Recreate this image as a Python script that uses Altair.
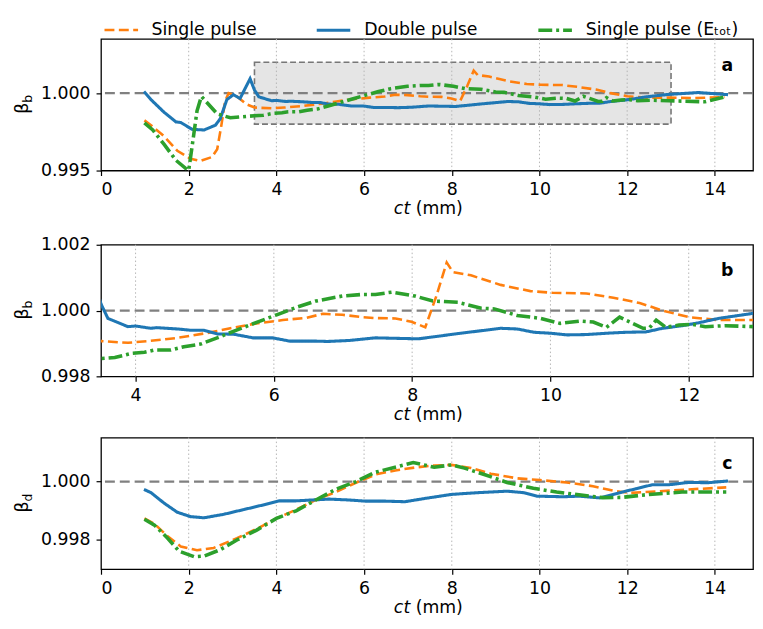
import altair as alt
import pandas as pd

SERIES = ["Single pulse", "Double pulse", "Single pulse (Eₜₒₜ)"]
COLORS = ["#ff7f0e", "#1f77b4", "#2ca02c"]
DASHES = [[10, 4.5], [1, 0], [14, 4, 3, 4]]
WIDTHS = [2.6, 3.6, 2.6]

# ---------------- beta_b (panels a and b share the same curves) ----------------
bb_single_ct = [0.99, 1.14, 1.44, 1.74, 2.04, 2.27, 2.53, 2.65, 2.74, 2.83, 2.91, 3.10, 3.32,
                3.5, 3.89, 4.18, 4.61, 5.04, 5.37, 5.75, 6.13, 6.47, 6.71, 6.99, 7.28, 7.47,
                7.76, 7.99, 8.19, 8.35, 8.50, 8.59, 8.85, 9.28, 9.71, 10.03, 10.52, 10.91,
                11.29, 11.62, 12.00, 12.43, 12.95, 13.5, 14.22]
bb_single = [0.99824, 0.99793, 0.99721, 0.99628, 0.99576, 0.99562, 0.99587, 0.99638, 0.99783,
             0.99948, 1.0000, 0.99979, 0.99928, 0.99907, 0.99902, 0.99907, 0.99917, 0.99932,
             0.99946, 0.99961, 0.99971, 0.99978, 0.9999, 0.99987, 0.9998, 0.99977, 0.99976,
             0.99966, 0.99949, 1.00044, 1.00146, 1.00117, 1.00107, 1.00078, 1.00059, 1.00054,
             1.00052, 1.00039, 1.00023, 1.0000, 0.9998, 0.99971, 0.99971, 0.99968, 0.99975]

bb_double_ct = [0.98, 1.14, 1.44, 1.71, 1.82, 2.08, 2.35, 2.61, 2.72, 2.87, 3.02, 3.17, 3.40,
                3.5, 3.60, 3.89, 4.0, 4.22, 4.31, 4.61, 4.80, 4.99, 5.18, 5.42, 5.70, 5.98,
                6.23, 6.61, 6.78, 7.09, 7.47, 8.09, 8.38, 8.66, 9.05, 9.28, 9.52, 9.76, 10.0,
                10.24, 10.52, 10.81, 11.10, 11.38, 11.62, 11.91, 12.15, 12.43, 12.72, 12.95,
                13.62, 14.30]
bb_double = [1.0001, 0.99958, 0.99876, 0.99814, 0.9981, 0.99766, 0.99762, 0.99793, 0.99835,
             0.99958, 0.9999, 0.99965, 1.00093, 1.0002, 0.99976, 0.99951, 0.99953, 0.99946,
             0.99948, 0.99944, 0.9994, 0.9994, 0.99929, 0.99928, 0.99917, 0.99917, 0.99907,
             0.99907, 0.99906, 0.99909, 0.99917, 0.99914, 0.99922, 0.9993, 0.9994, 0.99946,
             0.99944, 0.99934, 0.99931, 0.99926, 0.99927, 0.99931, 0.99934, 0.99935, 0.99946,
             0.99954, 0.99963, 0.99976, 0.99985, 0.99992, 1.00004, 0.9999]

bb_etot_ct = [0.99, 1.18, 1.44, 1.71, 1.93, 2.0, 2.12, 2.19, 2.29, 2.42, 2.65, 2.95, 3.5, 3.70,
              3.94, 4.13, 4.27, 4.51, 4.70, 4.94, 5.18, 5.47, 5.75, 6.04, 6.33, 6.61, 6.99,
              7.28, 7.47, 7.71, 8.04, 8.30, 8.66, 9.0, 9.19, 9.52, 9.86, 10.14, 10.43, 10.62,
              10.81, 11.0, 11.19, 11.34, 11.43, 11.53, 11.67, 11.86, 12.05, 12.24, 12.53,
              12.95, 13.77, 14.27]
bb_etot = [0.99808, 0.99762, 0.99669, 0.99566, 0.99514, 0.9950, 0.99742, 0.99886, 0.99979,
           0.99938, 0.99866, 0.99841, 0.99854, 0.99857, 0.9987, 0.99873, 0.9988, 0.9988,
           0.9989, 0.99898, 0.99917, 0.99941, 0.99964, 0.99987, 1.0001, 1.00029, 1.00044,
           1.00049, 1.00049, 1.00056, 1.00044, 1.00029, 1.00025, 1.00007, 1.00005, 0.99985,
           0.99976, 0.99961, 0.99968, 0.99965, 0.99949, 0.9998, 0.99961, 0.99946, 0.99947,
           0.99971, 0.99949, 0.99956, 0.99958, 0.99951, 0.99954, 0.99951, 0.99944, 0.99979]

# ---------------- beta_d (panel c) ----------------
bd_single_ct = [0.99, 1.22, 1.52, 1.82, 2.19, 2.57, 3.10, 3.55, 4.0, 4.45, 4.90, 5.35, 5.80,
                6.26, 6.71, 7.16, 7.6, 7.99, 8.44, 8.89, 9.49, 10.02, 10.62, 11.22, 11.67,
                12.05, 12.65, 13.40, 14.26]
bd_single = [0.99874, 0.99855, 0.99813, 0.99778, 0.99765, 0.99773, 0.99806, 0.99838, 0.99874,
             0.99904, 0.99937, 0.99964, 0.99995, 1.00024, 1.00038, 1.00048, 1.00055, 1.00057,
             1.00046, 1.00027, 1.00011, 1.00005, 0.99997, 0.99984, 0.99969, 0.99961, 0.99966,
             0.99973, 0.9998]

bd_double_ct = [0.98, 1.14, 1.44, 1.74, 2.04, 2.35, 2.80, 3.25, 3.70, 4.07, 4.45, 4.83, 5.20,
                5.65, 6.03, 6.48, 6.93, 7.38, 7.99, 8.59, 9.26, 9.64, 9.94, 10.54, 10.92,
                11.37, 11.89, 12.19, 12.57, 12.95, 13.40, 13.85, 14.30]
bd_double = [0.99973, 0.99962, 0.99926, 0.99895, 0.9988, 0.99876, 0.99888, 0.99904, 0.9992,
             0.99934, 0.99934, 0.99937, 0.9994, 0.99937, 0.99933, 0.99933, 0.99931, 0.99942,
             0.99956, 0.99962, 0.99967, 0.99962, 0.9995, 0.99948, 0.9995, 0.99944, 0.99964,
             0.99975, 0.99989, 0.99989, 0.99997, 0.99996, 1.00002]

bd_etot_ct = [0.99, 1.22, 1.52, 1.78, 2.12, 2.35, 2.72, 3.10, 3.55, 4.0, 4.45, 4.90, 5.35,
              5.80, 6.26, 6.71, 7.12, 7.6, 8.0, 8.29, 8.74, 9.26, 9.86, 10.39, 10.99, 11.44,
              11.89, 12.50, 13.25, 14.26]
bd_etot = [0.99871, 0.99851, 0.99806, 0.99762, 0.99743, 0.99745, 0.99767, 0.998, 0.99834,
           0.99874, 0.999, 0.99937, 0.99973, 0.99999, 1.00032, 1.00049, 1.00065, 1.00049,
           1.00057, 1.00046, 1.00024, 0.99997, 0.99977, 0.99964, 0.99953, 0.99945, 0.99946,
           0.99956, 0.99964, 0.99964]

# ---------------- axes / annotations ----------------
xticks_full = [0, 2, 4, 6, 8, 10, 12, 14]
xticks_zoom = [4, 6, 8, 10, 12]
yticks_a = [0.995, 1.000]
yticks_b = [0.998, 1.000, 1.002]
yticks_c = [0.998, 1.000]
box_a = {"x": [3.5], "x2": [13.0], "y": [0.998], "y2": [1.002]}
ref_level = [1.0]

FONT = "DejaVu Sans"
FS = 17.5
W = 659
H = 133


def long_df(parts):
    rows = []
    for name, cts, vals in parts:
        for c, v in zip(cts, vals):
            rows.append({"ct": c, "beta": v, "series": name})
    return pd.DataFrame(rows)


df_b = long_df([(SERIES[0], bb_single_ct, bb_single),
                (SERIES[1], bb_double_ct, bb_double),
                (SERIES[2], bb_etot_ct, bb_etot)])
df_d = long_df([(SERIES[0], bd_single_ct, bd_single),
                (SERIES[1], bd_double_ct, bd_double),
                (SERIES[2], bd_etot_ct, bd_etot)])

color = alt.Color("series:N", scale=alt.Scale(domain=SERIES, range=COLORS),
                  legend=alt.Legend(title=None))
dash = alt.StrokeDash("series:N", scale=alt.Scale(domain=SERIES, range=DASHES),
                      legend=alt.Legend(title=None))
swidth = alt.StrokeWidth("series:N", scale=alt.Scale(domain=SERIES, range=WIDTHS),
                         legend=alt.Legend(title=None))


def one(text):
    return alt.Chart(pd.DataFrame({"t": [text]}))


def panel(df, xdom, xticks, ydom, yticks, sub, letter, box=None):
    xs = alt.Scale(domain=xdom, nice=False, zero=False)
    ys = alt.Scale(domain=ydom, nice=False, zero=False)
    xax = alt.Axis(values=xticks, title=None, grid=False, format="d")
    yax = alt.Axis(values=yticks, title=None, grid=False, format=".3f")

    def X(f):
        return alt.X(f, type="quantitative", scale=xs, axis=xax)

    def Y(f):
        return alt.Y(f, type="quantitative", scale=ys, axis=yax)

    layers = []
    if box is not None:
        layers.append(
            alt.Chart(pd.DataFrame(box)).mark_rect(
                fill="#e5e5e5", stroke="#777777", strokeDash=[6, 3], strokeWidth=1.6
            ).encode(x=X("x"), x2="x2", y=Y("y"), y2="y2")
        )
    gvals = [t for t in xticks if xdom[0] < t < xdom[1]]
    layers.append(
        alt.Chart(pd.DataFrame({"g": gvals})).mark_rule(
            color="#b5b5b5", strokeDash=[1.5, 2.5], strokeWidth=1
        ).encode(x=X("g"))
    )
    layers.append(
        alt.Chart(pd.DataFrame({"r": ref_level})).mark_rule(
            color="#808080", strokeDash=[10, 5], strokeWidth=2.3
        ).encode(y=Y("r"))
    )
    for s in SERIES:
        layers.append(
            alt.Chart(df[df.series == s]).mark_line(clip=True).encode(
                x=X("ct"), y=Y("beta"), color=color, strokeDash=dash, strokeWidth=swidth,
                order="ct:Q"
            )
        )
    layers.append(one(letter).mark_text(fontSize=FS, fontWeight="bold", align="center",
                                        baseline="alphabetic", font=FONT)
                  .encode(x=alt.value(633), y=alt.value(32), text="t:N"))
    layers.append(one("β").mark_text(fontSize=FS, angle=270, align="left",
                                     baseline="alphabetic", font=FONT)
                  .encode(x=alt.value(-74), y=alt.value(H / 2 + 9), text="t:N"))
    layers.append(one(sub).mark_text(fontSize=12.5, angle=270, align="left",
                                     baseline="alphabetic", font=FONT)
                  .encode(x=alt.value(-69.5), y=alt.value(H / 2 - 2), text="t:N"))
    layers.append(one("ct").mark_text(fontSize=FS, fontStyle="italic", align="left",
                                      baseline="alphabetic", font=FONT)
                  .encode(x=alt.value(296), y=alt.value(H + 44), text="t:N"))
    layers.append(one("(mm)").mark_text(fontSize=FS, align="left",
                                        baseline="alphabetic", font=FONT)
                  .encode(x=alt.value(318), y=alt.value(H + 44), text="t:N"))
    return alt.layer(*layers).properties(width=W, height=H)


pa = panel(df_b, [0, 14.87], xticks_full, [0.995, 1.0035], yticks_a, "b", "a", box=box_a)
pb = panel(df_b, [3.5, 12.93], xticks_zoom, [0.998, 1.002], yticks_b, "b", "b")
pc = panel(df_d, [0, 14.87], xticks_full, [0.997, 1.0015], yticks_c, "d", "c")

chart = alt.vconcat(alt.vconcat(pa, pb, spacing=16), pc, spacing=11).properties(
    padding={"left": 5, "top": 0, "right": 0, "bottom": 0}
).configure(font=FONT).configure_view(
    stroke="black", strokeWidth=1.3
).configure_axis(
    domain=False, ticks=True, tickColor="black", tickSize=5, tickWidth=1.2,
    labelFont=FONT, labelFontSize=FS, labelColor="black", labelPadding=5,
).configure_axisY(labelPadding=6).configure_legend(
    orient="none", legendX=2, legendY=-28, direction="horizontal",
    labelFont=FONT, labelFontSize=17.5, labelColor="black",
    symbolType="stroke", symbolSize=1150, columnPadding=53, labelOffset=12,
)

chart.save("out.html", embed_options={"renderer": "svg", "actions": False})
